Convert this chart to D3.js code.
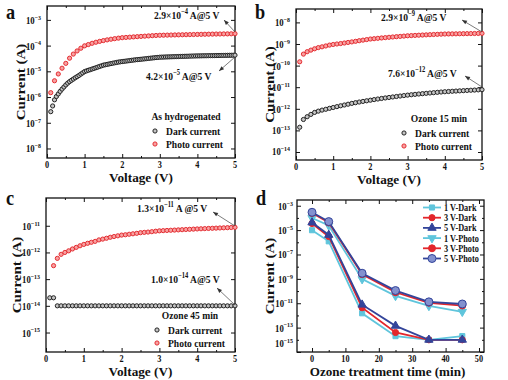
<!DOCTYPE html>
<html><head><meta charset="utf-8">
<script src="https://cdn.jsdelivr.net/npm/d3@7"></script>
<style>html,body{margin:0;padding:0;background:#fff}</style>
</head><body>
<svg id="c" width="508" height="380"></svg>
<script>
// ---------- DATA ----------
// Panel a (as hydrogenated), dark current sampled every 0.05 V from 0.1 V, photo every 0.1 V from 0.1 V
const aDarkStart = 0.1, aDarkStep = 0.05;
const aDark = [2.7e-7,4.5e-7,7.8e-7,1.05e-6,1.32e-6,1.66e-6,2.04e-6,2.45e-6,2.95e-6,3.47e-6,3.98e-6,4.47e-6,5.0e-6,5.6e-6,6.2e-6,6.9e-6,7.8e-6,8.7e-6,9.8e-6,
 1.04e-5,1.10e-5,1.16e-5,1.23e-5,1.30e-5,1.38e-5,1.46e-5,1.55e-5,1.64e-5,1.74e-5,1.80e-5,1.86e-5,1.93e-5,2.0e-5,2.07e-5,2.14e-5,2.21e-5,2.29e-5,2.34e-5,2.40e-5,
 2.45e-5,2.50e-5,2.56e-5,2.62e-5,2.68e-5,2.74e-5,2.80e-5,2.85e-5,2.90e-5,2.95e-5,3.0e-5,3.06e-5,3.12e-5,3.18e-5,3.24e-5,3.30e-5,3.36e-5,3.42e-5,3.48e-5,3.54e-5,
 3.56e-5,3.58e-5,3.61e-5,3.63e-5,3.65e-5,3.67e-5,3.70e-5,3.72e-5,3.74e-5,3.76e-5,3.79e-5,3.81e-5,3.83e-5,3.85e-5,3.87e-5,3.90e-5,3.92e-5,3.94e-5,3.96e-5,3.98e-5,
 3.99e-5,4.0e-5,4.02e-5,4.03e-5,4.04e-5,4.06e-5,4.07e-5,4.08e-5,4.09e-5,4.11e-5,4.12e-5,4.13e-5,4.15e-5,4.16e-5,4.17e-5,4.19e-5,4.20e-5,4.21e-5,4.23e-5,4.25e-5];
const aPhotoStart = 0.1, aPhotoStep = 0.1;
const aPhoto = [1.48e-6,4.3e-6,7.9e-6,1.32e-5,2.04e-5,3.24e-5,4.68e-5,6.2e-5,7.9e-5,9.8e-5,
 1.10e-4,1.23e-4,1.35e-4,1.46e-4,1.57e-4,1.67e-4,1.77e-4,1.86e-4,1.95e-4,2.03e-4,
 2.08e-4,2.13e-4,2.18e-4,2.23e-4,2.28e-4,2.33e-4,2.38e-4,2.43e-4,2.48e-4,2.52e-4,
 2.54e-4,2.56e-4,2.58e-4,2.60e-4,2.62e-4,2.64e-4,2.66e-4,2.68e-4,2.70e-4,2.72e-4,
 2.74e-4,2.76e-4,2.78e-4,2.80e-4,2.82e-4,2.83e-4,2.85e-4,2.86e-4,2.88e-4,2.90e-4];

// Panel b (ozone 15 min), both every 0.1 V from 0.1 V
const bDarkStart = 0.1, bDarkStep = 0.1;
const bDark = [1.4e-13,3.2e-13,4.3e-13,5.5e-13,6.8e-13,7.8e-13,8.7e-13,9.5e-13,1.05e-12,1.15e-12,
 1.26e-12,1.38e-12,1.50e-12,1.63e-12,1.78e-12,1.92e-12,2.06e-12,2.20e-12,2.35e-12,2.50e-12,
 2.67e-12,2.84e-12,3.01e-12,3.18e-12,3.35e-12,3.53e-12,3.71e-12,3.90e-12,4.10e-12,4.30e-12,
 4.48e-12,4.66e-12,4.84e-12,5.02e-12,5.20e-12,5.39e-12,5.58e-12,5.78e-12,5.98e-12,6.17e-12,
 6.32e-12,6.47e-12,6.62e-12,6.77e-12,6.92e-12,7.07e-12,7.22e-12,7.37e-12,7.52e-12,7.65e-12];
const bPhotoStart = 0.1, bPhotoStep = 0.1;
const bPhoto = [1.5e-10,3.4e-10,4.4e-10,5.2e-10,6.0e-10,6.8e-10,7.4e-10,8.1e-10,8.9e-10,9.5e-10,
 1.0e-9,1.05e-9,1.11e-9,1.18e-9,1.25e-9,1.33e-9,1.42e-9,1.51e-9,1.60e-9,1.70e-9,
 1.76e-9,1.83e-9,1.90e-9,1.97e-9,2.04e-9,2.11e-9,2.18e-9,2.25e-9,2.32e-9,2.40e-9,
 2.45e-9,2.50e-9,2.55e-9,2.60e-9,2.65e-9,2.70e-9,2.75e-9,2.80e-9,2.85e-9,2.90e-9,
 2.92e-9,2.94e-9,2.96e-9,2.98e-9,3.00e-9,3.02e-9,3.04e-9,3.06e-9,3.08e-9,3.10e-9];

// Panel c (ozone 45 min)
const cDarkStart = 0.1, cDarkStep = 0.1;
const cDark = [2e-14,2e-14,1e-14,1e-14,1e-14,1e-14,1e-14,1e-14,1e-14,1e-14,
 1e-14,1e-14,1e-14,1e-14,1e-14,1e-14,1e-14,1e-14,1e-14,1e-14,
 1e-14,1e-14,1e-14,1e-14,1e-14,1e-14,1e-14,1e-14,1e-14,1e-14,
 1e-14,1e-14,1e-14,1e-14,1e-14,1e-14,1e-14,1e-14,1e-14,1e-14,
 1e-14,1e-14,1e-14,1e-14,1e-14,1e-14,1e-14,1e-14,1e-14,1e-14];
const cPhotoStart = 0.2, cPhotoStep = 0.1;
const cPhoto = [3.2e-13,6.0e-13,8.5e-13,1.0e-12,1.15e-12,1.35e-12,1.55e-12,1.78e-12,2.0e-12,
 2.2e-12,2.4e-12,2.6e-12,2.95e-12,3.16e-12,3.4e-12,3.7e-12,3.95e-12,4.2e-12,4.47e-12,
 4.6e-12,4.8e-12,5.0e-12,5.2e-12,5.5e-12,5.65e-12,5.8e-12,6.0e-12,6.25e-12,6.45e-12,
 6.56e-12,6.67e-12,6.78e-12,6.89e-12,7.0e-12,7.12e-12,7.24e-12,7.36e-12,7.48e-12,7.6e-12,
 7.71e-12,7.82e-12,7.93e-12,8.04e-12,8.15e-12,8.26e-12,8.37e-12,8.48e-12,8.59e-12,8.7e-12];

// Panel d (current vs ozone time)
const dTimes = [0, 5, 15, 25, 35, 45];
const dSeriesNames = ["1 V-Dark","3 V-Dark","5 V-Dark","1 V-Photo","3 V-Photo","5 V-Photo"];
const d1VDark  = [9.8e-6, 1.2e-6, 1.5e-12, 2.0e-14, 1.0e-14, 2.0e-14];
const d3VDark  = [3.5e-5, 3.0e-6, 4.3e-12, 4.0e-14, 1.0e-14, 1.0e-14];
const d5VDark  = [4.2e-5, 4.0e-6, 7.6e-12, 1.4e-13, 1.0e-14, 1.0e-14];
const d1VPhoto = [9.8e-5, 2.4e-5, 9.5e-10, 4.0e-11, 6.0e-12, 2.0e-12];
const d3VPhoto = [2.5e-4, 4.2e-5, 2.4e-9, 8.0e-11, 1.1e-11, 6.5e-12];
const d5VPhoto = [2.9e-4, 5.0e-5, 2.9e-9, 1.1e-10, 1.3e-11, 8.7e-12];

const xTicksV = [0,1,2,3,4,5];
const aYTicks = [-8,-7,-6,-5,-4,-3];
const bYTicks = [-14,-13,-12,-11,-10,-9,-8];
const cYTicks = [-15,-14,-13,-12,-11];
const dYTicks = [-15,-13,-11,-9,-7,-5,-3];
const dXTicks = [0,10,20,30,40,50];

// ---------- DRAWING ----------
const FONT = "'Liberation Serif','Times New Roman',serif";
const SX = 0.87;
const svg = d3.select('#c');
const RED = '#e3262b', REDF = '#f7a1a1', BLK = '#1a1a1a', BLKF = '#c4c4c4';
const CYAN = '#5fc5dc', NAVY = '#33449a';

function txt(g, x, y, parts, size, anchor, rot, sx) {
  const s = sx || SX;
  const t = g.append('text')
    .attr('transform', rot ? `translate(${x},${y}) rotate(-90) scale(1,${s})` : `translate(${x},${y}) scale(${s},1)`)
    .attr('font-family', FONT).attr('font-weight', 'bold').attr('font-size', size)
    .attr('text-anchor', anchor || 'start').attr('fill', '#111');
  let prevSup = false;
  parts.forEach(p => {
    const sup = Array.isArray(p);
    const ts = t.append('tspan').text(sup ? p[0] : p);
    if (sup) { ts.attr('font-size', size * 0.68).attr('dy', -size * 0.42); prevSup = true; }
    else if (prevSup) { ts.attr('dy', size * 0.42); prevSup = false; }
  });
  return t;
}

function frame(g, x, y, yTicks, minorX, minorY, tickLabelsX, xl, yGap) {
  const [x0, x1] = x.range(), [y1, y0] = y.range();
  const mk = (axisFn, sc, vals, len) => axisFn(sc).tickValues(vals).tickSize(len).tickSizeOuter(0).tickFormat('');
  const put = (ax, tr) => {
    const a = g.append('g').attr('transform', tr).call(ax);
    a.select('.domain').remove();
    a.selectAll('line').attr('stroke', '#111').attr('stroke-width', 1);
  };
  const yVals = yTicks.map(v => Math.pow(10, v));
  const yMin = minorY.map(v => Math.pow(10, v));
  put(mk(d3.axisBottom, x, xl, -4), `translate(0,${y1})`);
  put(mk(d3.axisBottom, x, minorX, -2), `translate(0,${y1})`);
  put(mk(d3.axisTop, x, xl, -4), `translate(0,${y0})`);
  put(mk(d3.axisTop, x, minorX, -2), `translate(0,${y0})`);
  put(mk(d3.axisLeft, y, yVals, -4), `translate(${x0},0)`);
  put(mk(d3.axisLeft, y, yMin, -2), `translate(${x0},0)`);
  put(mk(d3.axisRight, y, yVals, -4), `translate(${x1},0)`);
  put(mk(d3.axisRight, y, yMin, -2), `translate(${x1},0)`);
  g.append('rect').attr('x', x0).attr('y', y0).attr('width', x1 - x0).attr('height', y1 - y0)
    .attr('fill', 'none').attr('stroke', '#111').attr('stroke-width', 1.3);
  yTicks.forEach(v => {
    const yy = Math.min(y(Math.pow(10, v)) + 4, y1 - 5);
    txt(g, x0 - yGap, yy, ['10', ['\u2212' + Math.abs(v)]], 10, 'end');
  });
  tickLabelsX.forEach(v => txt(g, x(v), y1 + 9.5, [String(v)], 9.5, 'middle'));
}

function arrow(g, hx, hy, tx, ty) {
  g.append('line').attr('x1', tx).attr('y1', ty).attr('x2', hx).attr('y2', hy)
    .attr('stroke', '#444').attr('stroke-width', 0.7);
  const ang = Math.atan2(ty - hy, tx - hx);
  const L = 5, W = 2;
  const p = [[hx, hy],
    [hx + L * Math.cos(ang) - W * Math.sin(ang), hy + L * Math.sin(ang) + W * Math.cos(ang)],
    [hx + L * Math.cos(ang) + W * Math.sin(ang), hy + L * Math.sin(ang) - W * Math.cos(ang)]];
  g.append('path').attr('d', 'M' + p.map(q => q.join(',')).join('L') + 'Z').attr('fill', '#333');
}

function ivPanel(cfg) {
  const g = svg.append('g');
  const x = d3.scaleLinear().domain([0, 5]).range([cfg.l, cfg.r]);
  const y = d3.scaleLog().domain([Math.pow(10, cfg.ylo), Math.pow(10, cfg.yhi)]).range([cfg.b, cfg.t]);
  const minorX = [0.5, 1.5, 2.5, 3.5, 4.5];
  frame(g, x, y, cfg.yTicks, minorX, [], xTicksV, xTicksV, 6);
  const series = [
    { vals: cfg.dark, start: cfg.darkStart, step: cfg.darkStep, stroke: BLK, fill: BLKF },
    { vals: cfg.photo, start: cfg.photoStart, step: cfg.photoStep, stroke: RED, fill: REDF }
  ];
  series.forEach(s => {
    g.append('g').selectAll('circle').data(s.vals).join('circle')
      .attr('cx', (d, i) => x(s.start + i * s.step)).attr('cy', d => y(d)).attr('r', 2.1)
      .attr('fill', s.fill).attr('stroke', s.stroke).attr('stroke-width', 0.95);
  });
  // axis titles
  txt(g, (cfg.l + cfg.r) / 2, cfg.b + 24, ['Voltage (V)'], 13.5, 'middle', false, 0.98);
  txt(g, cfg.ylx, (cfg.t + cfg.b) / 2, ['Current (A)'], 15, 'middle', true);
  // panel letter
  txt(g, cfg.lx, cfg.ly, [cfg.letter], 21, 'start');
  // legend
  const L = cfg.leg;
  txt(g, L.tx, L.ty, [L.title], 11, 'middle');
  g.append('circle').attr('cx', L.mx).attr('cy', L.ty + 11).attr('r', 2.1).attr('fill', BLKF).attr('stroke', BLK).attr('stroke-width', 0.95);
  txt(g, L.mx + 11, L.ty + 15, ['Dark current'], 11, 'start');
  g.append('circle').attr('cx', L.mx).attr('cy', L.ty + 24).attr('r', 2.1).attr('fill', REDF).attr('stroke', RED).attr('stroke-width', 0.95);
  txt(g, L.mx + 11, L.ty + 28, ['Photo current'], 11, 'start');
  // annotations
  cfg.ann.forEach(a => {
    txt(g, a.x, a.y, a.parts, 11, 'start');
    arrow(g, a.hx, a.hy, a.tx, a.ty);
  });
}

ivPanel({
  letter: 'a', lx: 6, ly: 19, l: 47, r: 235, t: 6, b: 158, ylo: -8.37, yhi: -2.46, yTicks: aYTicks, ylx: 25,
  dark: aDark, darkStart: aDarkStart, darkStep: aDarkStep, photo: aPhoto, photoStart: aPhotoStart, photoStep: aPhotoStep,
  leg: { title: 'As hydrogenated', tx: 186, ty: 120, mx: 155 },
  ann: [
    { x: 154, y: 19, parts: ['2.9\u00d710', ['\u22124'], ' A@5 V'], hx: 224, hy: 20, tx: 235, ty: 32 },
    { x: 146, y: 80, parts: ['4.2\u00d710', ['\u22125'], ' A@5 V'], hx: 219, hy: 71, tx: 235, ty: 57 }
  ]
});
ivPanel({
  letter: 'b', lx: 255, ly: 19, l: 296, r: 482, t: 9, b: 160, ylo: -14.37, yhi: -7.38, yTicks: bYTicks, ylx: 274,
  dark: bDark, darkStart: bDarkStart, darkStep: bDarkStep, photo: bPhoto, photoStart: bPhotoStart, photoStep: bPhotoStep,
  leg: { title: 'Ozone 15 min', tx: 439, ty: 122, mx: 404 },
  ann: [
    { x: 381, y: 21, parts: ['2.9\u00d710', ['\u22129'], ' A@5 V'], hx: 462, hy: 20, tx: 482, ty: 32 },
    { x: 388, y: 77, parts: ['7.6\u00d710', ['\u221212'], ' A@5 V'], hx: 465, hy: 76, tx: 482, ty: 87 }
  ]
});
ivPanel({
  letter: 'c', lx: 6, ly: 205, l: 46, r: 235, t: 198, b: 352, ylo: -15.73, yhi: -9.96, yTicks: cYTicks, ylx: 21,
  dark: cDark, darkStart: cDarkStart, darkStep: cDarkStep, photo: cPhoto, photoStart: cPhotoStart, photoStep: cPhotoStep,
  leg: { title: 'Ozone 45 min', tx: 190, ty: 319, mx: 157 },
  ann: [
    { x: 137, y: 212, parts: ['1.3\u00d710', ['\u221211'], ' A @5 V'], hx: 213, hy: 212, tx: 235, ty: 226 },
    { x: 151, y: 283, parts: ['1.0\u00d710', ['\u221214'], ' A@5 V'], hx: 217, hy: 288, tx: 235, ty: 305 }
  ]
});

// Panel d
(function () {
  const g = svg.append('g');
  const l = 297, r = 484, t = 200, b = 352;
  const x = d3.scaleLinear().domain([-4.5, 51.5]).range([l, r]);
  const y = d3.scaleLog().domain([1e-15, Math.pow(10, -2.53)]).range([b, t]);
  frame(g, x, y, dYTicks, [5, 15, 25, 35, 45], [-14, -12, -10, -8, -6, -4], dXTicks, dXTicks, 4);
  const series = [
    { vals: d1VDark, color: CYAN, sym: d3.symbolSquare, size: 26, fill: CYAN },
    { vals: d1VPhoto, color: CYAN, sym: 'down', size: 30, fill: CYAN },
    { vals: d3VDark, color: RED, sym: d3.symbolCircle, size: 30, fill: RED },
    { vals: d5VDark, color: NAVY, sym: d3.symbolTriangle, size: 30, fill: NAVY },
    { vals: d3VPhoto, color: RED, sym: d3.symbolCircle, size: 38, fill: RED },
    { vals: d5VPhoto, color: NAVY, sym: d3.symbolCircle, size: 50, fill: '#8391cf' }
  ];
  const symPath = (s) => s.sym === 'down'
    ? d3.symbol(d3.symbolTriangle, s.size)()
    : d3.symbol(s.sym, s.size)();
  const line = d3.line().x((d, i) => x(dTimes[i])).y(d => y(d));
  series.forEach(s => {
    g.append('path').attr('d', line(s.vals)).attr('fill', 'none').attr('stroke', s.color).attr('stroke-width', 1.8);
    g.append('g').selectAll('path').data(s.vals).join('path')
      .attr('d', symPath(s))
      .attr('transform', (d, i) => `translate(${x(dTimes[i])},${y(d)})` + (s.sym === 'down' ? ' rotate(180)' : ''))
      .attr('fill', s.fill).attr('stroke', s.color).attr('stroke-width', 1);
  });
  // legend
  const byName = {
    '1 V-Dark': series[0], '1 V-Photo': series[1], '3 V-Dark': series[2],
    '5 V-Dark': series[3], '3 V-Photo': series[4], '5 V-Photo': series[5]
  };
  dSeriesNames.forEach((n, i) => {
    const s = byName[n];
    const cy = 207.5 + i * 10.2;
    g.append('line').attr('x1', 423).attr('x2', 441).attr('y1', cy).attr('y2', cy).attr('stroke', s.color).attr('stroke-width', 1.8);
    g.append('path').attr('d', symPath(s)).attr('transform', `translate(432,${cy})` + (s.sym === 'down' ? ' rotate(180)' : ''))
      .attr('fill', s.fill).attr('stroke', s.color).attr('stroke-width', 1);
    txt(g, 444, cy + 3.5, [n], 9.5, 'start');
  });
  txt(g, (l + r) / 2 - 3, b + 24, ['Ozone treatment time (min)'], 13.5, 'middle', false, 0.97);
  txt(g, 274, (t + b) / 2, ['Current (A)'], 15, 'middle', true);
  txt(g, 256, 205, ['d'], 21, 'start');
})();
</script>
</body></html>
